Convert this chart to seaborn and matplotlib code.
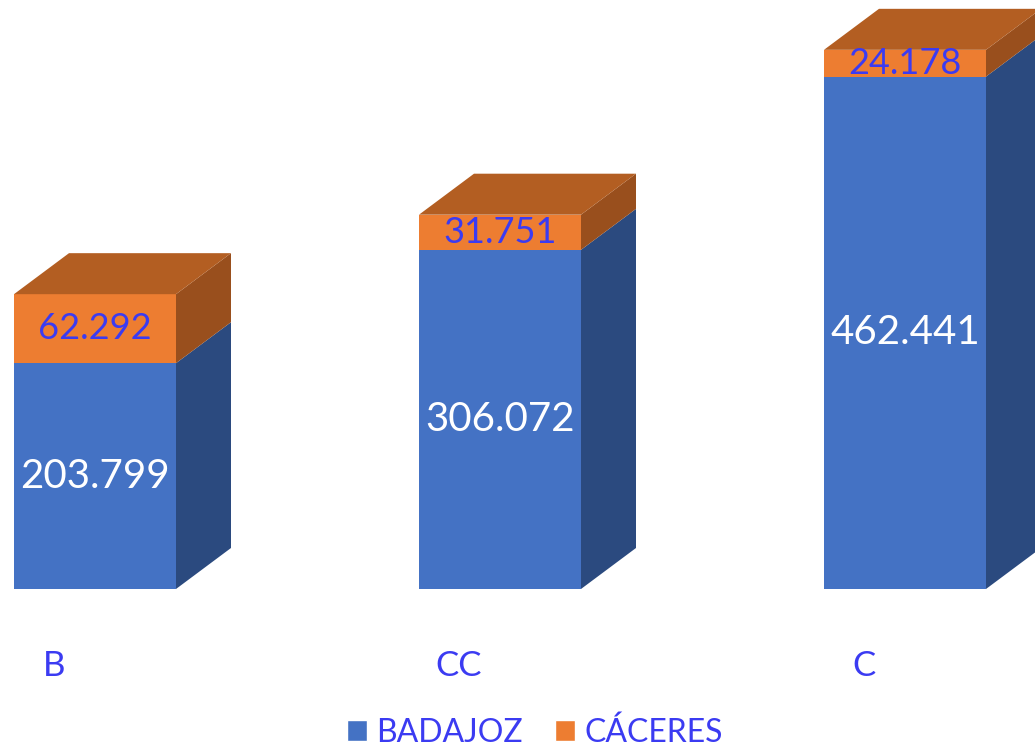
import numpy as np
import pandas as pd
import seaborn as sns
import matplotlib.pyplot as plt
from matplotlib.patches import Polygon, Patch
from matplotlib.transforms import ScaledTranslation

# datos
categorias = ['B', 'CC', 'C']
badajoz = [203799, 306072, 462441]
caceres = [62292, 31751, 24178]

azul = '#4472C4'
azul_lado = '#2B4A7F'
naranja = '#ED7D31'
naranja_top = '#B35E22'
naranja_lado = '#994F1D'
texto_azul = '#3B3BF2'

sns.set_style('white')
plt.rcParams['font.family'] = ['Lato', 'DejaVu Sans']

df = pd.DataFrame({'zona': categorias, 'BADAJOZ': badajoz, 'CÁCERES': caceres})
df['total'] = df['BADAJOZ'] + df['CÁCERES']

fig = plt.figure(figsize=(10.35, 7.53), dpi=100)
ax = fig.add_axes([0, 164 / 753, 1, 589 / 753])

sns.barplot(ax=ax, data=df, x='zona', y='total', color=naranja, saturation=1,
            width=0.4, linewidth=0, errorbar=None)
sns.barplot(ax=ax, data=df, x='zona', y='BADAJOZ', color=azul, saturation=1,
            width=0.4, linewidth=0, errorbar=None)

ax.set_xlim(-95 / 405, (1035 - 95) / 405)
ax.set_ylim(0, 589 / 1.108 * 1000)

# profundidad 3D (en pixeles -> datos)
px_x = 405.0
px_y = 1.108 / 1000
dx = 55 / px_x
dy = 41 / px_y

fmt = lambda v: f'{v:,}'.replace(',', '.')
for i, row in df.iterrows():
    x0 = i - 0.2
    x1 = i + 0.2
    b = row['BADAJOZ']
    t = row['total']
    ax.add_patch(Polygon([(x1, 0), (x1 + dx, dy), (x1 + dx, b + dy), (x1, b)],
                         closed=True, facecolor=azul_lado, edgecolor='none'))
    ax.add_patch(Polygon([(x1, b), (x1 + dx, b + dy), (x1 + dx, t + dy), (x1, t)],
                         closed=True, facecolor=naranja_lado, edgecolor='none'))
    ax.add_patch(Polygon([(x0, t), (x0 + dx, t + dy), (x1 + dx, t + dy), (x1, t)],
                         closed=True, facecolor=naranja_top, edgecolor='none'))
    ax.text(i, b / 2, fmt(b), ha='center', va='center', color='white', fontsize=29)
    ax.text(i, b + row['CÁCERES'] / 2, fmt(row['CÁCERES']), ha='center', va='center',
            color=texto_azul, fontsize=26)

ax.set_xlabel('')
ax.set_ylabel('')
ax.set_yticks([])
ax.tick_params(axis='x', length=0, pad=44, labelsize=25, labelcolor=texto_azul)
for lab in ax.get_xticklabels():
    lab.set_transform(lab.get_transform() + ScaledTranslation(-41 / 100, 0, fig.dpi_scale_trans))
for s in ax.spines.values():
    s.set_visible(False)

handles = [Patch(facecolor=azul, label='BADAJOZ'), Patch(facecolor=naranja, label='CÁCERES')]
leg = fig.legend(handles=handles, loc='center', bbox_to_anchor=(0.517, 0.027), ncol=2,
                 frameon=False, fontsize=23, handlelength=0.62, handleheight=0.62,
                 handletextpad=0.3, columnspacing=1.0)
for t in leg.get_texts():
    t.set_color(texto_azul)

fig.savefig('out.png', dpi=100)
